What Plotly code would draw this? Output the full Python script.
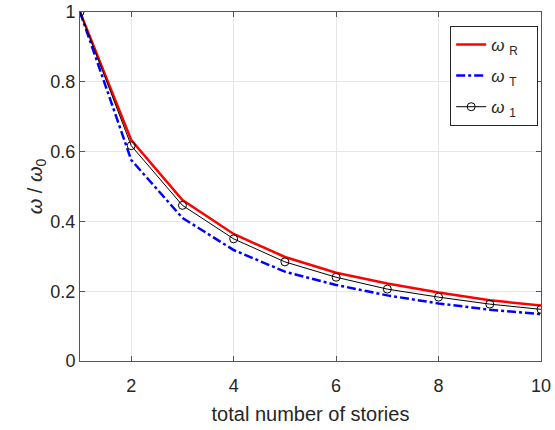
"""Normalized frequency vs. number of stories."""
import plotly.graph_objects as go

stories = [1, 2, 3, 4, 5, 6, 7, 8, 9, 10]
omega_r = [1.0, 0.633, 0.461, 0.364, 0.298, 0.253, 0.222, 0.196, 0.174, 0.159]
omega_t = [1.0, 0.576, 0.410, 0.318, 0.256, 0.218, 0.188, 0.165, 0.147, 0.134]
omega_1 = [1.0, 0.617, 0.446, 0.350, 0.284, 0.240, 0.206, 0.183, 0.163, 0.148]

x_ticks = [2, 4, 6, 8, 10]
y_ticks = [0, 0.2, 0.4, 0.6, 0.8, 1]
y_labels = ["0", "0.2", "0.4", "0.6", "0.8", "1"]

FONT = "Liberation Sans, Arial, sans-serif"
AXIS_COLOR = "#555555"
TEXT_COLOR = "#262626"
GRID_COLOR = "#e6e6e6"
PAD = "&nbsp;&nbsp;&nbsp;"

fig = go.Figure()
fig.add_trace(go.Scatter(
    x=stories, y=omega_r, mode="lines", name="<i>ω</i> <sub>R</sub>" + PAD,
    legendgroup="r", line=dict(color="#ff0000", width=2.5),
))
fig.add_trace(go.Scatter(
    x=stories, y=omega_t, mode="lines", name="<i>ω</i> <sub>T</sub>" + PAD,
    legendgroup="t", line=dict(color="#0000ff", width=2.5, dash="dashdot"),
))
fig.add_trace(go.Scatter(
    x=stories, y=omega_1, mode="lines+markers", name="<i>ω</i> <sub>1</sub>" + PAD,
    legendgroup="one", line=dict(color="#000000", width=1),
    marker=dict(symbol="circle-open", size=8, color="#000000", line=dict(width=1)),
))

axis_common = dict(
    showline=True, linecolor=AXIS_COLOR, linewidth=1, mirror="ticks",
    ticks="inside", ticklen=5, tickcolor=AXIS_COLOR,
    showgrid=True, gridcolor=GRID_COLOR, gridwidth=1,
    zeroline=False, automargin=False,
    tickfont=dict(size=18, color=TEXT_COLOR),
)

fig.update_xaxes(
    range=[1, 10], tickvals=x_ticks, ticklabelstandoff=8,
    title=dict(text="total number of stories", font=dict(size=20, color=TEXT_COLOR), standoff=12),
    **axis_common,
)
fig.update_yaxes(
    range=[0, 1], tickvals=y_ticks, ticktext=y_labels,
    title=dict(text="<i>ω</i> / <i>ω</i><sub>0</sub>", font=dict(size=20, color=TEXT_COLOR), standoff=2),
    **axis_common,
)

fig.update_layout(
    width=555, height=430,
    margin=dict(l=80, r=14, t=12, b=69),
    paper_bgcolor="white", plot_bgcolor="white",
    font=dict(family=FONT, color=TEXT_COLOR),
    showlegend=True,
    legend=dict(
        x=0.803, y=0.960, xanchor="left", yanchor="top",
        bgcolor="white", bordercolor=TEXT_COLOR, borderwidth=1,
        font=dict(size=17, color=TEXT_COLOR),
        tracegroupgap=6, itemwidth=30,
    ),
)

fig.write_html(
    "out.html",
    config={"displayModeBar": False},
    post_script="document.body.style.margin='0';",
)
